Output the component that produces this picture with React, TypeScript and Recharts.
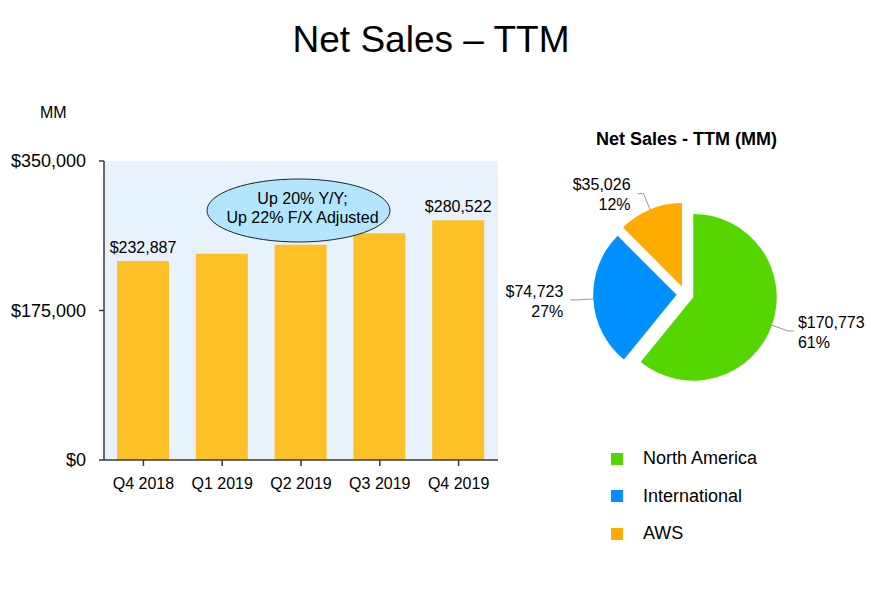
import React from 'react';
import {
  BarChart,
  Bar,
  XAxis,
  YAxis,
  CartesianGrid,
  LabelList,
  PieChart,
  Pie,
  Cell,
  Sector,
  Legend,
} from 'recharts';

const FONT = '"Liberation Sans", Arial, Helvetica, sans-serif';

// ---- Bar chart data ----
const quarters = ['Q4 2018', 'Q1 2019', 'Q2 2019', 'Q3 2019', 'Q4 2019'];
const netSalesTTM = [232887, 241547, 252063, 265469, 280522];
const labeledQuarters = ['Q4 2018', 'Q4 2019'];
const yTicks = [0, 175000, 350000];
const calloutLines = ['Up 20% Y/Y;', 'Up 22% F/X Adjusted'];

// ---- Pie chart data ----
const segments = ['North America', 'International', 'AWS'];
const segmentSales = [170773, 74723, 35026];
const segmentColors = ['#55d600', '#0090ff', '#ffab00'];

const barData = quarters.map((q, i) => ({ quarter: q, sales: netSalesTTM[i] }));
const pieData = segments.map((s, i) => ({ name: s, value: segmentSales[i] }));

const money = (v: number) => '$' + Number(v).toLocaleString('en-US');

const RAD = Math.PI / 180;
const EXPLODE = 8.6;

function ExplodedSlice(props: any) {
  const { cx, cy, midAngle, startAngle, endAngle, outerRadius, index, value, percent } = props;
  const dx = Math.cos(-midAngle * RAD);
  const dy = Math.sin(-midAngle * RAD);
  const ox = cx + EXPLODE * dx;
  const oy = cy + EXPLODE * dy;
  const x0 = ox + outerRadius * dx;
  const y0 = oy + outerRadius * dy;
  const x1 = ox + (outerRadius + 17) * dx;
  const y1 = oy + (outerRadius + 17) * dy;
  const right = dx >= 0;
  const x2 = x1 + (right ? 6 : -6);
  const tx = x2 + (right ? 4 : -7);
  const anchor = right ? 'start' : 'end';
  return (
    <g>
      <Sector
        cx={ox}
        cy={oy}
        innerRadius={0}
        outerRadius={outerRadius}
        startAngle={startAngle}
        endAngle={endAngle}
        fill={segmentColors[index]}
        stroke="none"
      />
      <polyline
        points={`${x0},${y0} ${x1},${y1} ${x2},${y1}`}
        fill="none"
        stroke="#9a9a9a"
        strokeWidth={1}
      />
      <text x={tx} y={y1 - 9} dy="0.355em" textAnchor={anchor} fontSize={16} fill="#000" fontFamily={FONT}>
        {money(value)}
      </text>
      <text x={tx} y={y1 + 11} dy="0.355em" textAnchor={anchor} fontSize={16} fill="#000" fontFamily={FONT}>
        {Math.round(percent * 100)}%
      </text>
    </g>
  );
}

function BarValueLabel(props: any) {
  const vb = props.viewBox || props;
  const x = Number(vb.x ?? props.x);
  const y = Number(vb.y ?? props.y);
  const w = Number(vb.width ?? props.width);
  const idx = props.index;
  if (idx == null || !labeledQuarters.includes(quarters[idx])) return null;
  return (
    <text x={x + w / 2} y={y - 8} textAnchor="middle" fontSize={16} fill="#000" fontFamily={FONT}>
      {money(props.value)}
    </text>
  );
}

function LegendContent(props: any) {
  const payload = [...(props.payload || [])].sort(
    (a: any, b: any) => segments.indexOf(a.value) - segments.indexOf(b.value)
  );
  return (
    <div style={{ fontFamily: FONT }}>
      {payload.map((p: any) => (
        <div key={p.value} style={{ display: 'flex', alignItems: 'center', height: 37.5 }}>
          <div style={{ width: 12, height: 12, background: segmentColors[segments.indexOf(p.value)] }} />
          <span style={{ marginLeft: 20, fontSize: 18, color: '#000' }}>{p.value}</span>
        </div>
      ))}
    </div>
  );
}

export default function App() {
  return (
    <div style={{ position: 'absolute', left: 0, top: 0, width: 871, height: 600, background: '#fff', fontFamily: FONT }}>
      <div style={{ position: 'absolute', left: 0, top: 0 }}>
        <BarChart
          width={520}
          height={520}
          data={barData}
          margin={{ top: 161, right: 22, left: 0, bottom: 30 }}
        >
          <CartesianGrid horizontal={false} vertical={false} fill="#e8f2fd" stroke="none" />
          <XAxis
            dataKey="quarter"
            height={30}
            tickSize={6}
            tickMargin={12}
            axisLine={{ stroke: '#3a3a3a', strokeWidth: 1.5 }}
            tickLine={{ stroke: '#3a3a3a', strokeWidth: 1.5 }}
            tick={{ fontSize: 16, fill: '#000', fontFamily: FONT }}
            interval={0}
          />
          <YAxis
            width={104}
            domain={[0, 350000]}
            ticks={yTicks}
            tickSize={5}
            tickMargin={13}
            tickFormatter={(v: number) => money(v)}
            axisLine={{ stroke: '#3a3a3a', strokeWidth: 1.5 }}
            tickLine={{ stroke: '#3a3a3a', strokeWidth: 1.5 }}
            tick={{ fontSize: 18, fill: '#000', fontFamily: FONT }}
          />
          <Bar dataKey="sales" fill="#fdc026" barSize={52} isAnimationActive={false}>
            <LabelList dataKey="sales" content={BarValueLabel} />
          </Bar>
        </BarChart>
      </div>

      <div style={{ position: 'absolute', left: 500, top: 100 }}>
        <PieChart width={371} height={480} margin={{ top: 0, right: 0, bottom: 0, left: 0 }}>
          <Pie
            data={pieData}
            dataKey="value"
            nameKey="name"
            cx={185.2}
            cy={194.4}
            innerRadius={0}
            outerRadius={83.4}
            startAngle={90}
            endAngle={-270}
            stroke="none"
            fillOpacity={0}
            labelLine={false}
            label={ExplodedSlice}
            isAnimationActive={false}
          >
            {pieData.map((d, i) => (
              <Cell key={d.name} fill={segmentColors[i]} fillOpacity={0} stroke="none" />
            ))}
          </Pie>
          <Legend
            content={LegendContent}
            wrapperStyle={{ position: 'absolute', left: 111, top: 340, width: 220 }}
          />
        </PieChart>
      </div>

      <svg
        width={871}
        height={600}
        style={{ position: 'absolute', left: 0, top: 0, pointerEvents: 'none' }}
      >
        <text x={431} y={52} textAnchor="middle" fontSize={37} fill="#000" fontFamily={FONT}>
          Net Sales – TTM
        </text>
        <text x={40} y={118} fontSize={16} fill="#000" fontFamily={FONT}>
          MM
        </text>
        <text x={686.5} y={145} textAnchor="middle" fontSize={18} fontWeight="bold" fill="#000" fontFamily={FONT}>
          Net Sales - TTM (MM)
        </text>
        <ellipse cx={298.5} cy={210.5} rx={91.5} ry={31.5} fill="#b3e5fc" stroke="#222" strokeWidth={1} />
        {calloutLines.map((t, i) => (
          <text key={t} x={302.5} y={198.3 + i * 19} dy="0.355em" textAnchor="middle" fontSize={16} fill="#000" fontFamily={FONT}>
            {t}
          </text>
        ))}
      </svg>
    </div>
  );
}
